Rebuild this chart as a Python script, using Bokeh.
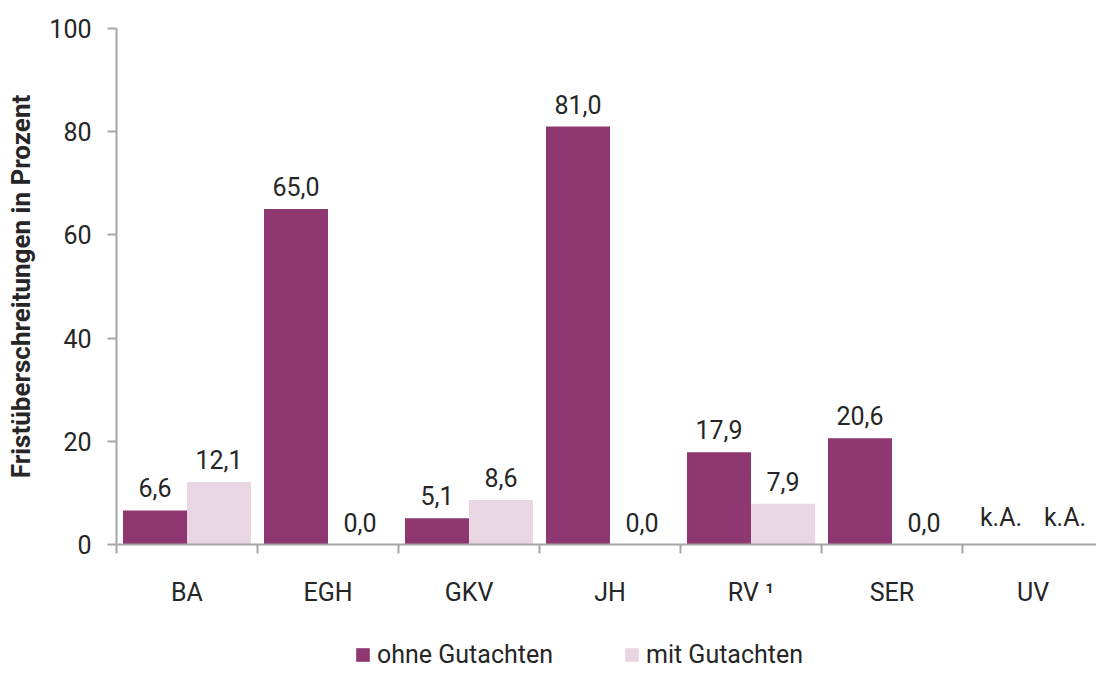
from bokeh.plotting import figure
from bokeh.layouts import column
from bokeh.models import Range1d, FixedTicker, Legend, LegendItem, ColumnDataSource
from bokeh.embed import file_html
from bokeh.resources import INLINE
from bokeh.core.properties import value

categories = ["BA", "EGH", "GKV", "JH", "RV ¹", "SER", "UV"]
ohne = [6.6, 65.0, 5.1, 81.0, 17.9, 20.6, None]
mit = [12.1, 0.0, 8.6, 0.0, 7.9, 0.0, None]
ohne_labels = ["6,6", "65,0", "5,1", "81,0", "17,9", "20,6", "k.A."]
mit_labels = ["12,1", "0,0", "8,6", "0,0", "7,9", "0,0", "k.A."]
y_ticks = [0, 20, 40, 60, 80, 100]
series_names = ["ohne Gutachten", "mit Gutachten"]

DARK = "#8E3770"
LIGHT = "#E9D6E3"
TEXT = "#262626"
AXIS = "#A6A6A6"
FONT = "Roboto"

BAR_W = 0.454
OFF = BAR_W / 2

centers = [i + 0.5 for i in range(len(categories))]

p = figure(frame_width=980, frame_height=516, output_backend="svg", toolbar_location=None,
           x_range=Range1d(0, 980 / 141), y_range=Range1d(0, 100),
           min_border_left=116, min_border_right=0, min_border_top=28,
           min_border_bottom=66)
p.outline_line_color = None
p.xgrid.visible = False
p.ygrid.visible = False
p.background_fill_color = "white"

def bar_source(vals, shift):
    xs, tops = [], []
    for c, v in zip(centers, vals):
        if v is not None:
            xs.append(c + shift)
            tops.append(v)
    return ColumnDataSource(dict(x=xs, top=tops))

p.vbar(x="x", top="top", width=BAR_W, source=bar_source(ohne, -OFF),
       fill_color=DARK, line_color=None)
p.vbar(x="x", top="top", width=BAR_W, source=bar_source(mit, OFF),
       fill_color=LIGHT, line_color=None)

def label_source(vals, labels, shift):
    return ColumnDataSource(dict(
        x=[c + shift for c in centers],
        y=[v if v is not None else 0 for v in vals],
        t=labels))

for vals, labels, shift in ((ohne, ohne_labels, -OFF), (mit, mit_labels, OFF)):
    p.text(x="x", y="y", text="t", source=label_source(vals, labels, shift),
           text_align="center", text_baseline="bottom", y_offset=-13,
           text_font=value(FONT), text_font_size="25px", text_color=TEXT)

# x axis
xa = p.xaxis[0]
xa.ticker = FixedTicker(ticks=centers, minor_ticks=list(range(len(categories) + 1)))
xa.major_label_overrides = {c: lab for c, lab in zip(centers, categories)}
xa.major_tick_out = 0
xa.major_tick_in = 0
xa.minor_tick_out = 9
xa.minor_tick_in = 0
xa.minor_tick_line_color = AXIS
xa.minor_tick_line_width = 2
xa.axis_line_color = AXIS
xa.axis_line_width = 2
xa.major_label_standoff = 24
xa.major_label_text_font = FONT
xa.major_label_text_font_size = "25px"
xa.major_label_text_color = TEXT

# y axis
ya = p.yaxis[0]
ya.ticker = FixedTicker(ticks=y_ticks)
ya.minor_tick_line_color = None
ya.major_tick_out = 9
ya.major_tick_in = 0
ya.major_tick_line_color = AXIS
ya.major_tick_line_width = 2
ya.axis_line_color = AXIS
ya.axis_line_width = 2
ya.major_label_standoff = 16
ya.major_label_text_font = FONT
ya.major_label_text_font_size = "25px"
ya.major_label_text_color = TEXT
ya.axis_label = "Fristüberschreitungen in Prozent"
ya.axis_label_text_font = FONT
ya.axis_label_text_font_size = "26px"
ya.axis_label_text_font_style = "bold"
ya.axis_label_text_color = TEXT
ya.axis_label_standoff = 10

# legend strip below the chart (key renderers have zero height, so draw nothing)
lf = figure(width=1096, height=62, output_backend="svg", toolbar_location=None,
            x_range=Range1d(0, 1), y_range=Range1d(0, 1),
            x_axis_location=None, y_axis_location=None,
            min_border=0, min_border_left=0, min_border_right=0,
            min_border_top=0, min_border_bottom=0)
lf.outline_line_color = None
lf.xgrid.visible = False
lf.ygrid.visible = False
k1 = lf.vbar(x=[0.5], top=[0], bottom=[0], width=0.1, fill_color=DARK, line_color=None)
k2 = lf.vbar(x=[0.5], top=[0], bottom=[0], width=0.1, fill_color=LIGHT, line_color=None)
legend = Legend(items=[LegendItem(label=series_names[0], renderers=[k1]),
                       LegendItem(label=series_names[1], renderers=[k2])],
                orientation="horizontal", location=(238, 3),
                glyph_width=17, glyph_height=17, label_standoff=6, spacing=70,
                label_text_font=FONT, label_text_font_size="25px",
                label_text_color=TEXT, border_line_color=None,
                background_fill_alpha=0, padding=0, margin=0,
                label_height=17)
lf.add_layout(legend, "center")

open("out.html", "w").write(file_html(column(p, lf), INLINE))
